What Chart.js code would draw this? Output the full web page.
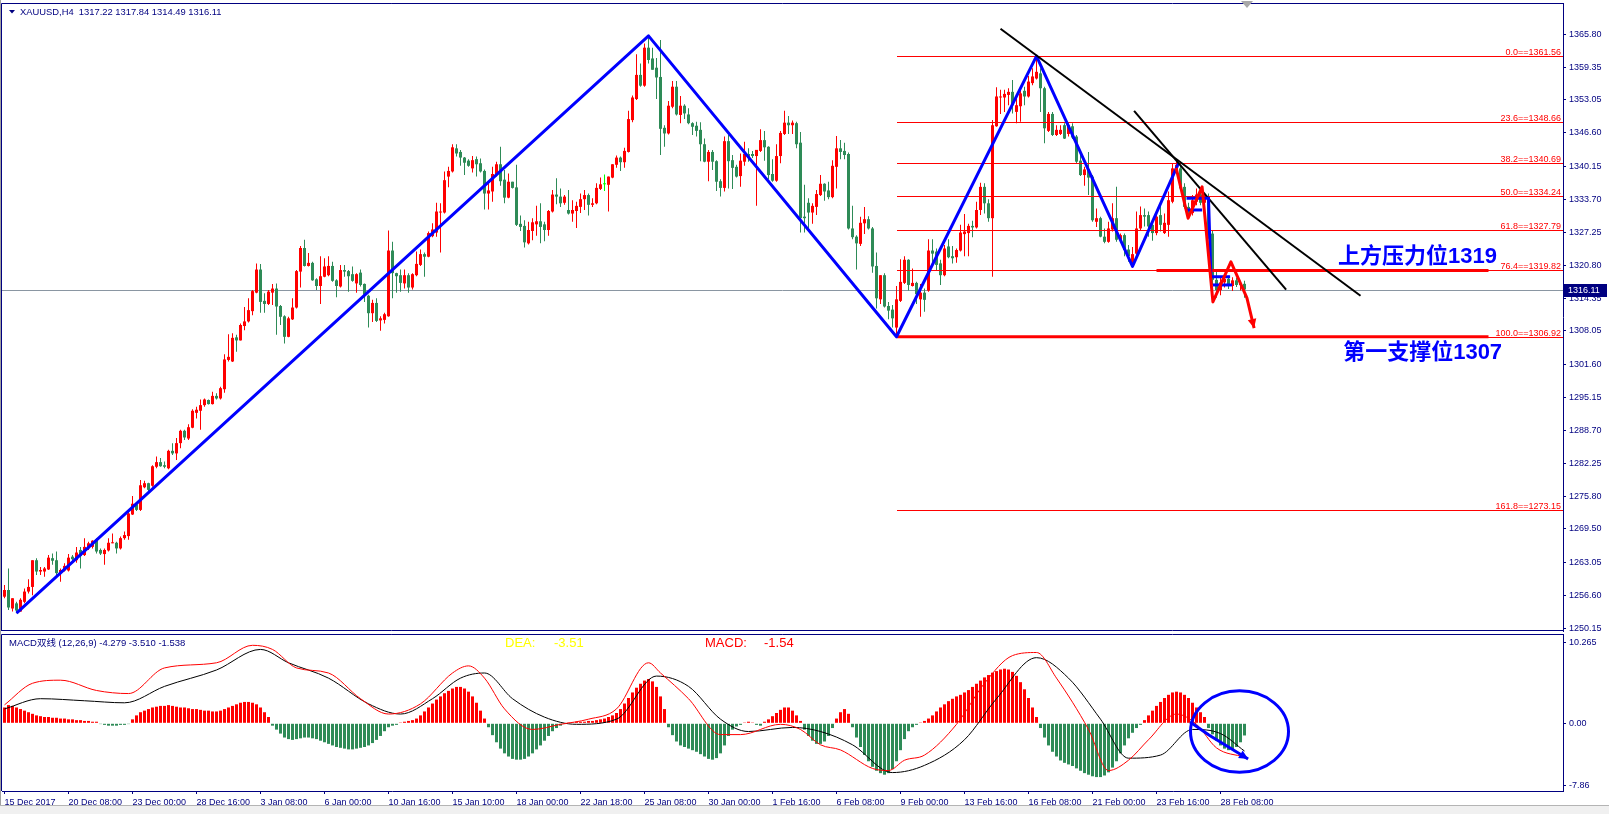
<!DOCTYPE html>
<html><head><meta charset="utf-8">
<script src="https://cdn.jsdelivr.net/npm/chart.js@4.4.1/dist/chart.umd.min.js"></script>
<style>
html,body{margin:0;padding:0;background:#fff;width:1609px;height:814px;overflow:hidden;position:relative;}
#wrapA{position:absolute;left:0;top:0;width:1609px;height:633px;}
#wrapB{position:absolute;left:0;top:633px;width:1609px;height:181px;}
#foot{position:absolute;left:0;top:805px;width:1609px;height:9px;background:#f0f0f0;border-top:1px solid #b4b4b4;}
#edge{position:absolute;left:0;top:0;width:1px;height:805px;background:#a0a0a0;}
</style></head><body>
<div id="wrapA"><canvas id="cA" width="1609" height="633"></canvas></div>
<div id="wrapB"><canvas id="cB" width="1609" height="181"></canvas></div>
<div id="foot"></div><div id="edge"></div>
<script>
// ---------------- DATA ----------------
const open = [
1256.3,1257.6,1254.0,1255.0,1253.4,1255.3,1257.3,1258.2,1263.4,1261.2,
1261.2,1261.6,1263.8,1263.4,1260.9,1261.4,1261.4,1264.1,1263.4,1265.4,
1264.4,1265.7,1266.0,1267.5,1265.4,1264.6,1265.3,1266.7,1266.8,1265.7,
1267.7,1268.1,1272.3,1274.3,1273.2,1277.6,1278.4,1277.9,1281.6,1282.5,
1281.9,1281.3,1284.7,1284.2,1286.2,1288.6,1287.1,1289.2,1292.1,1292.5,
1293.6,1294.6,1293.8,1295.4,1294.9,1296.7,1302.4,1302.1,1306.8,1306.2,
1309.0,1309.9,1311.9,1315.5,1320.0,1313.9,1313.3,1315.5,1316.3,1312.9,
1310.9,1306.9,1310.3,1312.6,1319.6,1324.2,1320.7,1321.3,1318.1,1316.8,
1318.6,1318.9,1320.7,1317.9,1316.7,1319.9,1319.7,1319.1,1317.3,1319.4,
1317.2,1314.9,1311.5,1313.5,1310.1,1310.2,1310.9,1323.7,1319.3,1318.9,
1317.3,1318.9,1316.5,1318.9,1320.9,1323.0,1322.5,1326.5,1327.2,1331.1,
1331.1,1338.1,1339.1,1343.6,1342.9,1341.8,1341.2,1339.7,1341.5,1340.7,
1339.2,1334.8,1335.2,1338.4,1340.5,1337.5,1334.0,1337.1,1336.0,1328.9,
1328.5,1325.1,1327.5,1328.8,1329.4,1328.8,1327.7,1331.3,1334.6,1334.2,
1333.0,1331.6,1330.9,1331.4,1332.2,1333.7,1334.5,1332.6,1332.9,1335.7,
1336.6,1336.5,1337.9,1340.4,1341.8,1340.9,1342.9,1349.1,1353.2,1357.9,
1355.8,1363.2,1361.1,1359.3,1357.5,1347.6,1346.5,1351.7,1355.6,1350.1,
1351.9,1350.2,1348.5,1348.0,1347.2,1344.4,1341.0,1342.9,1341.1,1337.2,
1335.9,1345.0,1341.3,1340.0,1338.2,1341.0,1342.5,1342.5,1342.1,1343.1,
1345.2,1343.9,1338.6,1337.3,1342.1,1346.4,1348.6,1348.1,1348.5,1344.7,
1330.3,1333.0,1331.1,1332.2,1334.5,1336.7,1335.4,1334.1,1340.0,1343.6,
1343.1,1342.5,1328.0,1326.4,1325.0,1329.0,1329.8,1328.0,1320.7,1314.2,
1318.9,1312.9,1312.2,1308.7,1313.9,1317.4,1321.9,1316.8,1317.4,1314.2,
1315.5,1315.9,1323.7,1323.5,1321.2,1318.9,1324.5,1322.6,1322.4,1323.7,
1326.9,1327.1,1328.5,1328.2,1331.6,1336.1,1332.9,1330.0,1347.9,1353.5,
1353.5,1354.0,1354.6,1350.7,1351.8,1354.8,1353.7,1356.3,1357.2,1358.2,
1355.3,1347.0,1350.3,1346.2,1346.4,1348.1,1346.4,1347.9,1345.9,1341.2,
1338.4,1339.5,1338.1,1329.3,1330.0,1326.4,1325.4,1327.8,1330.0,1325.8,
1326.7,1323.9,1321.3,1323.1,1328.0,1330.6,1330.6,1328.7,1327.1,1330.6,
1327.1,1328.7,1333.2,1339.1,1339.7,1336.1,1332.2,1331.0,1333.2,1334.6,
1333.0,1334.3,1327.0,1318.0,1316.0,1317.5,1318.2,1316.8,1317.9,1317.0,
1317.22];
const high = [
1258.6,1261.8,1256.0,1255.3,1256.0,1257.9,1259.7,1263.4,1263.8,1262.1,
1262.1,1264.4,1264.7,1265.1,1261.8,1262.8,1264.6,1264.4,1266.0,1266.0,
1267.7,1267.0,1267.3,1267.7,1265.7,1265.7,1267.7,1268.6,1267.0,1268.0,
1269.0,1272.9,1275.9,1274.6,1279.0,1278.9,1278.5,1281.9,1283.6,1283.3,
1282.6,1284.9,1286.2,1287.2,1288.8,1288.8,1289.9,1292.8,1293.3,1294.7,
1294.9,1294.7,1296.2,1295.9,1297.2,1303.5,1307.4,1307.6,1307.3,1309.5,
1312.7,1314.4,1316.0,1321.2,1321.1,1315.4,1316.0,1317.2,1317.3,1313.1,
1311.1,1310.8,1314.4,1319.9,1324.6,1325.8,1323.2,1321.5,1318.3,1322.6,
1322.2,1322.6,1321.5,1318.1,1320.9,1320.9,1319.9,1320.6,1319.3,1320.0,
1317.3,1315.1,1314.1,1314.4,1310.9,1311.6,1327.6,1325.4,1319.4,1320.0,
1320.0,1319.3,1319.3,1323.5,1323.9,1323.3,1327.4,1329.0,1333.0,1332.9,
1339.1,1340.0,1344.4,1344.4,1343.3,1341.9,1341.5,1342.1,1342.0,1341.6,
1339.5,1337.1,1340.0,1341.0,1343.9,1339.4,1338.7,1337.1,1340.4,1330.5,
1329.6,1329.3,1330.0,1332.4,1332.9,1329.3,1331.6,1335.5,1337.8,1335.8,
1334.5,1335.5,1333.5,1333.2,1334.8,1335.5,1334.8,1333.9,1336.8,1337.9,
1338.5,1338.1,1340.5,1342.2,1342.0,1343.7,1350.9,1353.9,1361.9,1360.1,
1364.0,1365.5,1363.2,1361.2,1364.7,1348.1,1352.8,1356.7,1356.7,1353.8,
1352.2,1351.4,1348.7,1348.8,1348.7,1345.5,1343.3,1343.3,1341.3,1337.6,
1345.9,1346.2,1342.3,1340.4,1342.6,1344.9,1343.6,1343.1,1343.3,1347.3,
1347.0,1344.0,1341.5,1344.4,1347.0,1350.9,1349.9,1349.0,1348.8,1346.8,
1336.5,1333.9,1332.9,1335.5,1338.4,1336.8,1337.1,1341.3,1346.0,1345.2,
1344.7,1342.8,1332.4,1326.7,1330.3,1332.2,1330.4,1328.3,1323.3,1318.9,
1319.3,1313.7,1313.1,1316.8,1322.0,1322.6,1322.0,1320.2,1317.6,1317.2,
1316.3,1325.9,1325.9,1324.1,1321.9,1324.8,1325.9,1324.6,1324.1,1328.7,
1330.8,1328.9,1329.5,1333.2,1336.9,1336.8,1333.7,1349.1,1355.5,1355.0,
1355.0,1355.3,1356.9,1354.0,1355.3,1355.6,1357.7,1359.2,1361.56,1359.2,
1355.6,1350.7,1350.7,1348.1,1348.1,1348.5,1348.5,1348.5,1346.2,1342.9,
1340.0,1342.9,1338.4,1331.9,1330.3,1328.0,1329.3,1332.9,1336.1,1327.0,
1327.0,1324.8,1324.4,1331.3,1332.3,1331.9,1331.3,1329.3,1330.9,1332.6,
1330.9,1335.2,1340.7,1341.0,1340.2,1336.8,1333.0,1334.5,1335.8,1335.2,
1334.8,1334.8,1327.5,1319.5,1318.6,1319.0,1318.8,1318.5,1318.4,1317.6,
1317.84];
const low = [
1256.0,1253.7,1253.4,1253.1,1253.4,1255.0,1256.9,1256.6,1260.5,1260.5,
1260.2,1261.5,1262.5,1260.5,1259.2,1261.2,1261.2,1263.1,1262.9,1261.8,
1264.2,1265.4,1265.7,1264.7,1264.4,1262.5,1265.1,1266.7,1264.7,1265.5,
1267.4,1267.4,1272.2,1273.0,1273.0,1277.4,1276.8,1277.7,1281.3,1281.6,
1281.3,1281.1,1283.9,1282.9,1285.2,1286.8,1286.8,1289.1,1291.0,1288.8,
1293.3,1293.7,1293.7,1294.7,1294.7,1296.0,1302.1,1302.0,1304.0,1306.2,
1308.2,1309.7,1311.1,1315.4,1311.6,1311.6,1313.1,1313.1,1307.3,1309.2,
1305.6,1306.8,1310.2,1312.4,1316.5,1320.6,1320.6,1317.8,1316.0,1313.3,
1318.5,1318.7,1317.6,1314.6,1316.5,1318.6,1315.7,1317.6,1315.5,1316.7,
1313.7,1308.7,1309.8,1309.8,1308.1,1309.5,1310.8,1314.4,1315.5,1315.7,
1316.3,1315.5,1316.1,1318.7,1320.7,1318.6,1322.4,1326.3,1326.4,1323.3,
1330.9,1336.0,1338.9,1342.0,1340.2,1338.4,1340.0,1338.9,1338.1,1338.9,
1331.7,1331.7,1333.2,1338.1,1336.3,1332.9,1333.9,1335.8,1328.5,1327.5,
1324.3,1324.9,1325.7,1326.6,1325.1,1325.5,1326.6,1331.1,1332.7,1332.2,
1332.6,1330.7,1329.3,1328.1,1331.0,1331.6,1330.5,1332.2,1332.7,1335.5,
1335.3,1331.3,1337.8,1339.8,1339.2,1339.8,1342.8,1348.7,1353.0,1355.6,
1355.6,1360.1,1358.9,1353.2,1342.3,1343.9,1346.3,1351.4,1350.0,1348.5,
1349.3,1348.3,1346.2,1345.9,1341.1,1340.9,1337.2,1339.4,1335.3,1334.2,
1335.2,1335.8,1335.7,1337.9,1336.1,1340.2,1341.0,1341.7,1332.4,1342.9,
1341.2,1337.6,1337.1,1337.1,1340.7,1346.2,1346.4,1346.4,1343.6,1327.2,
1327.2,1327.4,1328.9,1330.6,1334.3,1333.4,1333.7,1333.9,1335.8,1341.5,
1341.5,1327.8,1325.9,1320.0,1324.6,1326.9,1327.8,1319.4,1312.4,1313.3,
1312.6,1310.3,1308.7,1306.92,1313.7,1317.2,1315.9,1316.7,1313.3,1310.8,
1311.8,1315.7,1320.6,1319.9,1317.0,1318.7,1322.2,1321.2,1321.3,1323.5,
1322.6,1322.6,1326.3,1328.0,1330.6,1330.9,1329.3,1318.6,1347.8,1350.3,
1350.7,1352.0,1350.4,1348.5,1348.8,1352.0,1353.5,1355.9,1357.0,1350.7,
1344.6,1346.8,1346.0,1346.0,1346.2,1345.4,1345.9,1345.4,1340.7,1338.2,
1336.3,1334.5,1329.3,1328.3,1326.3,1325.1,1325.2,1327.4,1325.4,1325.6,
1322.6,1321.5,1320.5,1322.8,1327.7,1328.4,1326.4,1325.6,1326.7,1327.4,
1326.9,1326.4,1332.9,1338.6,1335.5,1331.9,1330.0,1330.5,1332.5,1332.5,
1332.0,1326.0,1317.0,1314.5,1315.0,1316.5,1316.2,1315.8,1316.6,1315.9,
1314.49];
const close = [
1257.6,1254.2,1256.0,1253.6,1255.7,1257.3,1258.2,1263.4,1261.2,1261.5,
1261.8,1263.9,1263.3,1260.9,1261.5,1262.3,1263.9,1263.6,1264.9,1264.2,
1266.0,1266.7,1267.2,1265.1,1264.7,1265.4,1266.8,1266.8,1265.7,1267.7,
1268.3,1272.5,1274.4,1273.2,1278.0,1278.4,1277.1,1281.7,1282.5,1281.7,
1281.6,1284.7,1284.2,1286.2,1288.6,1287.3,1289.3,1292.5,1292.7,1293.6,
1294.7,1293.8,1295.4,1294.9,1296.9,1302.5,1303.0,1306.7,1306.2,1309.2,
1309.9,1312.1,1315.8,1320.0,1313.7,1313.3,1315.7,1316.3,1312.8,1310.8,
1306.9,1310.5,1312.6,1319.7,1324.2,1320.7,1321.3,1317.9,1316.8,1318.7,
1320.6,1320.7,1317.8,1316.8,1319.9,1319.6,1318.7,1317.8,1319.1,1317.0,
1315.1,1311.5,1313.5,1310.0,1310.5,1311.3,1323.7,1319.3,1318.7,1317.4,
1318.9,1316.5,1319.1,1321.1,1323.0,1322.5,1327.1,1327.8,1331.3,1331.3,
1337.4,1339.2,1343.8,1342.6,1341.8,1340.8,1340.2,1341.3,1340.5,1339.1,
1334.8,1335.4,1338.6,1340.5,1337.2,1334.0,1337.1,1335.9,1328.7,1328.3,
1325.3,1327.7,1329.2,1329.4,1328.3,1327.7,1331.4,1334.6,1334.2,1332.9,
1334.2,1330.9,1331.6,1332.4,1333.7,1334.5,1332.6,1332.9,1335.9,1336.6,
1336.6,1338.1,1340.5,1341.8,1340.9,1343.1,1349.3,1353.5,1357.9,1355.8,
1363.2,1360.8,1358.9,1357.4,1347.4,1346.5,1351.9,1355.6,1350.2,1351.9,
1350.4,1348.5,1347.8,1347.0,1344.4,1341.0,1342.9,1341.0,1337.1,1335.9,
1345.0,1341.1,1339.8,1338.1,1341.2,1342.5,1341.8,1342.1,1343.3,1345.2,
1343.8,1338.4,1337.3,1342.1,1346.6,1348.6,1348.1,1348.6,1344.4,1330.0,
1330.0,1331.1,1332.4,1334.7,1336.7,1335.2,1334.1,1340.2,1343.6,1342.9,
1342.3,1328.0,1326.3,1325.1,1329.1,1329.8,1328.0,1320.6,1314.4,1318.9,
1312.8,1312.0,1310.5,1314.2,1317.6,1321.9,1317.0,1317.4,1315.2,1315.5,
1314.1,1323.7,1323.1,1320.9,1318.9,1324.1,1322.4,1322.2,1323.8,1327.2,
1327.4,1328.5,1328.2,1331.6,1336.1,1332.9,1330.0,1348.1,1353.7,1353.7,
1354.2,1354.6,1352.0,1352.0,1354.3,1353.7,1356.6,1357.6,1358.5,1355.3,
1347.5,1350.3,1346.2,1347.2,1347.2,1345.5,1348.1,1345.7,1341.0,1338.4,
1339.5,1337.9,1329.6,1330.0,1326.4,1325.4,1328.0,1330.0,1325.8,1326.7,
1323.8,1322.6,1323.0,1328.0,1330.6,1330.3,1328.4,1327.1,1330.3,1328.7,
1329.1,1333.5,1339.7,1340.4,1335.8,1332.2,1331.0,1333.5,1334.6,1333.0,
1334.3,1327.0,1318.0,1316.0,1317.5,1318.2,1316.8,1317.9,1317.0,1317.2,
1316.11];

// MACD histogram (one value per bar)
const macdHist = [
2.0,2.3,2.2,2.0,1.8,1.6,1.4,1.2,
1.0,0.9,0.8,0.8,0.7,0.7,0.6,0.6,0.5,0.5,0.4,0.4,0.3,0.3,0.2,0.2,
-0.1,-0.2,-0.3,-0.3,-0.3,-0.2,-0.2,-0.1,
0.5,1.0,1.4,1.6,1.8,2.0,2.1,2.2,2.2,2.3,2.2,2.1,2.0,2.0,1.9,1.8,1.8,1.7,1.6,1.6,1.5,1.5,1.6,1.8,2.0,2.2,2.4,2.6,2.7,2.7,2.6,2.4,2.0,1.4,0.8,
-0.3,-0.8,-1.3,-1.8,-2.0,-2.1,-2.0,-1.9,-1.8,-1.8,-1.9,-2.0,-2.2,-2.4,-2.6,-2.8,-3.0,-3.1,-3.2,-3.3,-3.3,-3.2,-3.1,-3.0,-2.8,-2.5,-2.1,-1.6,-1.0,-0.5,
-0.3,-0.2,0.1,0.2,0.3,0.4,0.6,
1.0,1.5,2.0,2.5,3.0,3.4,3.8,4.1,4.4,4.6,4.6,4.4,4.0,3.4,2.6,1.6,0.6,
-0.5,-1.5,-2.4,-3.2,-3.8,-4.2,-4.5,-4.6,-4.6,-4.5,-4.2,-3.8,-3.3,-2.8,-2.2,-1.6,-1.0,-0.6,-0.3,
-0.1,0.1,0.1,0.2,0.2,0.2,0.3,0.3,0.4,0.5,0.6,0.8,1.0,1.3,
1.8,2.5,3.2,3.9,4.5,5.0,5.4,5.6,5.3,4.6,3.4,1.8,
-0.5,-1.5,-2.3,-2.8,-3.0,-3.2,-3.4,-3.6,-3.9,-4.2,-4.5,-4.6,-4.4,-3.8,-2.8,-1.6,
-0.8,-0.4,-0.2,0.1,0.2,0.1,-0.2,-0.3,0.2,0.5,0.9,1.3,
1.7,2.0,2.0,1.6,1.0,0.3,
-0.8,-1.6,-2.2,-2.6,-2.6,-2.3,-1.6,-0.6,
0.6,1.4,1.8,1.2,
-0.5,-1.8,-3.0,-4.0,-4.8,-5.5,-6.0,-6.3,-6.5,-6.3,-5.8,-4.8,-3.4,-2.0,
-1.0,-0.5,-0.2,0.1,0.3,0.6,
1.0,1.5,2.0,2.4,2.8,3.1,3.4,3.6,3.9,4.2,4.6,5.0,5.4,5.8,6.1,6.4,6.6,6.8,6.9,6.8,6.5,6.0,5.2,4.3,3.2,2.0,0.8,
-0.6,-1.8,-2.8,-3.6,-4.2,-4.7,-5.0,-5.2,-5.4,-5.7,-6.0,-6.3,-6.5,-6.7,-6.8,-6.8,-6.6,-6.2,-5.6,-4.8,-3.8,-2.8,-1.9,-1.2,-0.6,-0.2,
0.4,1.0,1.6,2.2,2.7,3.2,3.6,3.9,4.0,3.9,3.6,3.2,2.6,2.0,1.4,0.8,
-0.6,-1.4,-2.2,-2.8,-3.2,-3.4,-3.3,-3.0,-2.4,-1.54];

// MACD lines, read at sampled bars
const difBars = [0,7,14,23,31,40,53,62,67,73,81,89,96,104,112,116,120,125,132,139,146,153,161,164,171,179,184,194,199,204,209,217,221,225,230,238,245,252,258,263,271,276,281,286,293,298,303,310];
const difVals = [2.33,5.06,5.45,4.15,3.76,7.0,7.65,9.86,9.34,7.0,6.36,3.11,1.17,2.46,6.36,7.26,5.71,1.82,-0.78,-0.13,0.52,1.82,7.65,6.36,3.11,-1.43,-1.43,-0.13,-0.78,-2.72,-3.37,-5.71,-5.97,-4.67,-4.02,-0.13,5.06,8.56,8.95,5.71,-0.78,-5.97,-4.67,-2.08,1.17,-0.13,-3.11,-4.28];
const deaBars = [0,9,20,30,40,53,64,71,81,91,99,107,114,120,127,135,143,153,163,171,179,186,197,204,212,222,230,240,248,258,266,274,281,289,297,304,310];
const deaVals = [1.82,3.11,2.85,2.59,4.67,6.74,9.34,7.65,5.71,2.46,1.17,3.11,5.71,6.36,3.11,0.78,-0.13,0.52,5.97,4.67,0.52,-1.04,-0.52,-1.04,-2.72,-6.23,-5.32,-2.08,3.11,8.30,5.71,0.52,-4.41,-4.02,-0.78,-1.30,-3.51];

// axes
const priceTicks = [1365.80,1359.35,1353.05,1346.60,1340.15,1333.70,1327.25,1320.80,1314.35,1308.05,1301.60,1295.15,1288.70,1282.25,1275.80,1269.50,1263.05,1256.60,1250.15];
const priceTickLabels = ['1365.80','1359.35','1353.05','1346.60','1340.15','1333.70','1327.25','1320.80','1314.35','1308.05','1301.60','1295.15','1288.70','1282.25','1275.80','1269.50','1263.05','1256.60','1250.15'];
const macdTicks = [10.265, 0, -7.86];
const macdTickLabels = ['10.265','0.00','-7.86'];
const timeTickBars = [0,16,32,48,64,80,96,112,128,144,160,176,192,208,224,240,256,272,288,304];
const timeTickLabels = ['15 Dec 2017','20 Dec 08:00','23 Dec 00:00','28 Dec 16:00','3 Jan 08:00','6 Jan 00:00','10 Jan 16:00','15 Jan 10:00','18 Jan 00:00','22 Jan 18:00','25 Jan 08:00','30 Jan 00:00','1 Feb 16:00','6 Feb 08:00','9 Feb 00:00','13 Feb 16:00','16 Feb 08:00','21 Feb 00:00','23 Feb 16:00','28 Feb 08:00'];

// drawn objects
const fibLevels = [0.0,23.6,38.2,50.0,61.8,76.4,100.0,161.8];
const fibPrices = [1361.56,1348.66,1340.69,1334.24,1327.79,1319.82,1306.92,1273.15];
const fibStartBar = 223;
const zigzagBars = [3,161,223,258,282,293.5];
const zigzagPrices = [1253.1,1365.5,1306.92,1361.56,1320.6,1340.69];
const trend1Bars = [249,339], trend1Prices = [1366.9,1314.9];
const trend2Bars = [282.4,320.4], trend2Prices = [1350.9,1316.1];
const resistBars = [288,371], resistPrice = 1319.82;
const supportBars = [223,371], supportPrice = 1306.92;
const redPathBars = [292.9,295.9,299.4,302.1,306.6,310.6,312.4];
const redPathPrices = [1339.8,1330.0,1336.1,1313.7,1321.5,1314.5,1308.6];
const bluePathBars = [295.5,301.0,301.6,306.4];
const bluePathPrices = [1333.9,1333.9,1318.6,1318.6];
const blueLineABars = [295.5,299.4], blueLineAPrices = [1331.6,1331.6];
const blueLineBBars = [302.1,306.9], blueLineBPrices = [1317.0,1317.0];
const lastPrice = 1316.11;
const textResist = '上方压力位1319', textResistBar = 373.1, textResistPrice = 1321.2;
const textSupport = '第一支撑位1307', textSupportBar = 374.4, textSupportPrice = 1302.5;
const headerText = 'XAUUSD,H4  1317.22 1317.84 1314.49 1316.11';
const macdHeader = 'MACD双线 (12,26,9) -4.279 -3.510 -1.538';
const deaLabel = 'DEA:', deaValueText = '-3.51';
const macdLabel = 'MACD:', macdValueText = '-1.54';
const ellipseBars = [296.5,321.0], ellipseVals = [4.1,-6.2];
const macdArrowBars = [296.4,301.1,310.9], macdArrowVals = [0.16,-1.48,-4.51];

// ---------------- RENDER ----------------
const X_MIN = -0.625, X_MAX = 389.625;
const P_MIN = 1249.62, P_MAX = 1371.9;
const M_MIN = -8.56, M_MAX = 11.29;
const UP = '#ff0000', DN = '#2e8b57', DOJI = '#00ff00';
const NAVY = '#000080';
const FONT = "'Liberation Sans', Arial, sans-serif";
const candleColor = close.map((c,i)=> c>open[i]?UP:(c<open[i]?DN:DOJI));

function poly(ctx, xs, ys, bars, vals){
  ctx.beginPath();
  bars.forEach((b,i)=>{const px=xs.getPixelForValue(b), py=ys.getPixelForValue(vals[i]); i?ctx.lineTo(px,py):ctx.moveTo(px,py);});
  ctx.stroke();
}
function arrowHead(ctx, x1,y1,x2,y2,size,color){
  const a=Math.atan2(y2-y1,x2-x1);
  ctx.fillStyle=color; ctx.beginPath();
  ctx.moveTo(x2,y2);
  ctx.lineTo(x2-size*Math.cos(a-0.45), y2-size*Math.sin(a-0.45));
  ctx.lineTo(x2-size*Math.cos(a+0.45), y2-size*Math.sin(a+0.45));
  ctx.closePath(); ctx.fill();
}

const overlayA = {
  id:'overlayA',
  beforeDatasetsDraw(chart){
    const {ctx, chartArea:a, scales:{x,y}} = chart;
    ctx.save();
    const py = Math.round(y.getPixelForValue(lastPrice))+0.5;
    ctx.strokeStyle='#8a96a2'; ctx.lineWidth=1;
    ctx.beginPath(); ctx.moveTo(a.left,py); ctx.lineTo(a.right,py); ctx.stroke();
    ctx.restore();
  },
  afterDatasetsDraw(chart){
    const {ctx, chartArea:a, scales:{x,y}} = chart;
    ctx.save();
    ctx.beginPath(); ctx.rect(a.left,a.top,a.right-a.left,a.bottom-a.top); ctx.clip();
    // fibonacci
    ctx.lineWidth=1; ctx.strokeStyle='#ff0000'; ctx.fillStyle='#ff0000';
    ctx.font='9px '+FONT; ctx.textAlign='right'; ctx.textBaseline='alphabetic';
    const fx = Math.round(x.getPixelForValue(fibStartBar));
    fibPrices.forEach((p,i)=>{
      const ly = Math.round(y.getPixelForValue(p))+0.5;
      ctx.beginPath(); ctx.moveTo(fx,ly); ctx.lineTo(a.right,ly); ctx.stroke();
      ctx.fillText(fibLevels[i].toFixed(1)+'=='+p.toFixed(2), a.right-2, ly-2);
    });
    // thick support / resistance
    ctx.lineWidth=3;
    ctx.beginPath(); ctx.moveTo(x.getPixelForValue(resistBars[0]), y.getPixelForValue(resistPrice)); ctx.lineTo(x.getPixelForValue(resistBars[1]), y.getPixelForValue(resistPrice)); ctx.stroke();
    ctx.beginPath(); ctx.moveTo(x.getPixelForValue(supportBars[0]), y.getPixelForValue(supportPrice)); ctx.lineTo(x.getPixelForValue(supportBars[1]), y.getPixelForValue(supportPrice)); ctx.stroke();
    // zigzag
    ctx.lineJoin='round';
    ctx.strokeStyle='#0000ff'; ctx.lineWidth=3;
    poly(ctx,x,y,zigzagBars,zigzagPrices);
    // trend lines
    ctx.strokeStyle='#000000'; ctx.lineWidth=2;
    poly(ctx,x,y,trend1Bars,trend1Prices);
    poly(ctx,x,y,trend2Bars,trend2Prices);
    // blue boxes
    ctx.strokeStyle='#0000ff'; ctx.lineWidth=3;
    poly(ctx,x,y,bluePathBars,bluePathPrices);
    poly(ctx,x,y,blueLineABars,blueLineAPrices);
    poly(ctx,x,y,blueLineBBars,blueLineBPrices);
    // red path
    ctx.strokeStyle='#ff0000'; ctx.lineWidth=3;
    poly(ctx,x,y,redPathBars,redPathPrices);
    const n=redPathBars.length;
    arrowHead(ctx, x.getPixelForValue(redPathBars[n-2]), y.getPixelForValue(redPathPrices[n-2]), x.getPixelForValue(redPathBars[n-1]), y.getPixelForValue(redPathPrices[n-1]), 10, '#ff0000');
    // texts
    ctx.fillStyle='#0000ff'; ctx.font="bold 22px 'Liberation Sans', 'Noto Sans CJK SC', sans-serif";
    ctx.textAlign='right'; ctx.textBaseline='alphabetic';
    ctx.fillText(textResist, x.getPixelForValue(textResistBar), y.getPixelForValue(textResistPrice));
    ctx.fillText(textSupport, x.getPixelForValue(textSupportBar), y.getPixelForValue(textSupportPrice));
    ctx.restore();
  },
  afterDraw(chart){
    const {ctx, chartArea:a, scales:{y}} = chart;
    ctx.save();
    ctx.strokeStyle=NAVY; ctx.lineWidth=1;
    ctx.beginPath();
    ctx.moveTo(a.left-0.5, a.bottom-0.5); ctx.lineTo(a.left-0.5, a.top+0.5); ctx.lineTo(a.right, a.top+0.5);
    ctx.moveTo(a.left-1, a.bottom-0.5); ctx.lineTo(a.right, a.bottom-0.5);
    ctx.stroke();
    // header
    ctx.fillStyle=NAVY; ctx.beginPath(); ctx.moveTo(9,10); ctx.lineTo(15,10); ctx.lineTo(12,13.5); ctx.closePath(); ctx.fill();
    ctx.font='9.4px '+FONT; ctx.textAlign='left'; ctx.textBaseline='middle';
    ctx.fillText(headerText, 20, 12);
    // chart shift marker
    ctx.fillStyle='#a8a8a8'; ctx.beginPath(); ctx.moveTo(1241,1); ctx.lineTo(1253,1); ctx.lineTo(1247,8); ctx.closePath(); ctx.fill();
    // current price box
    const py = Math.round(y.getPixelForValue(lastPrice));
    ctx.fillStyle=NAVY; ctx.fillRect(a.right+1, py-6, 43, 13);
    ctx.fillStyle='#ffffff'; ctx.font='9px '+FONT; ctx.textBaseline='middle';
    ctx.fillText(lastPrice.toFixed(2), a.right+5, py+0.5);
    ctx.restore();
  }
};

const overlayB = {
  id:'overlayB',
  afterDatasetsDraw(chart){
    const {ctx, chartArea:a, scales:{x,y}} = chart;
    ctx.save();
    const l=x.getPixelForValue(ellipseBars[0]), r=x.getPixelForValue(ellipseBars[1]);
    const t=y.getPixelForValue(ellipseVals[0]), b=y.getPixelForValue(ellipseVals[1]);
    ctx.strokeStyle='#0000ff'; ctx.lineWidth=3;
    ctx.beginPath(); ctx.ellipse((l+r)/2,(t+b)/2,(r-l)/2,(b-t)/2,0,0,Math.PI*2); ctx.stroke();
    poly(ctx,x,y,macdArrowBars,macdArrowVals);
    const n=macdArrowBars.length;
    arrowHead(ctx, x.getPixelForValue(macdArrowBars[n-2]), y.getPixelForValue(macdArrowVals[n-2]), x.getPixelForValue(macdArrowBars[n-1]), y.getPixelForValue(macdArrowVals[n-1]), 10, '#0000ff');
    ctx.restore();
  },
  afterDraw(chart){
    const {ctx, chartArea:a} = chart;
    ctx.save();
    ctx.strokeStyle=NAVY; ctx.lineWidth=1;
    ctx.beginPath(); ctx.moveTo(a.left-0.5, a.bottom); ctx.lineTo(a.left-0.5, a.top+0.5); ctx.lineTo(a.right, a.top+0.5); ctx.stroke();
    ctx.textAlign='left'; ctx.textBaseline='middle';
    ctx.fillStyle=NAVY; ctx.font="9.5px 'Liberation Sans', 'Noto Sans CJK SC', sans-serif";
    ctx.fillText(macdHeader, 9, 10);
    ctx.font='13px '+FONT;
    ctx.fillStyle='#ffff00'; ctx.fillText(deaLabel, 505, 10); ctx.fillText(deaValueText, 554, 10);
    ctx.fillStyle='#ff0000'; ctx.fillText(macdLabel, 705, 10); ctx.fillText(macdValueText, 764, 10);
    ctx.restore();
  }
};

const tickFont = {family:"'Liberation Sans', Arial, sans-serif", size:9};

new Chart(document.getElementById('cA'), {
  type:'bar',
  data:{datasets:[
    {label:'wick', data: close.map((c,i)=>({x:i, y:[low[i],high[i]]})), backgroundColor:candleColor, barThickness:1, grouped:false, order:2, inflateAmount:0, borderWidth:0},
    {label:'body', data: close.map((c,i)=>({x:i, y:[open[i],c]})), backgroundColor:candleColor, barThickness:3, minBarLength:1, grouped:false, order:1, inflateAmount:0, borderWidth:0}
  ]},
  options:{
    responsive:false, animation:false, devicePixelRatio:1,
    layout:{padding:{left:2,right:0,top:3,bottom:2}, autoPadding:false},
    plugins:{legend:{display:false}, tooltip:{enabled:false}},
    scales:{
      x:{type:'linear', min:X_MIN, max:X_MAX, bounds:'data', offset:false, display:false, grid:{offset:false}},
      y:{position:'right', min:P_MIN, max:P_MAX, bounds:'data',
         afterFit(s){s.width=46; s.paddingTop=0; s.paddingBottom=0;},
         afterBuildTicks(s){s.ticks=priceTicks.map(v=>({value:v}));},
         ticks:{callback:(v,i)=>priceTickLabels[i], font:tickFont, color:NAVY, padding:3, autoSkip:false},
         grid:{drawOnChartArea:false, tickLength:3, color:NAVY},
         border:{color:NAVY}}
    }
  },
  plugins:[overlayA]
});

new Chart(document.getElementById('cB'), {
  type:'bar',
  data:{datasets:[
    {type:'bar', data: macdHist.map((v,i)=>({x:i,y:v})), backgroundColor: macdHist.map(v=>v>=0?UP:DN), barThickness:3, grouped:false, inflateAmount:0, borderWidth:0, order:3},
    {type:'line', data: difBars.map((b,i)=>({x:b,y:difVals[i]})), borderColor:'#ff0000', borderWidth:1, pointRadius:0, cubicInterpolationMode:'monotone', order:1},
    {type:'line', data: deaBars.map((b,i)=>({x:b,y:deaVals[i]})), borderColor:'#000000', borderWidth:1, pointRadius:0, cubicInterpolationMode:'monotone', order:2}
  ]},
  options:{
    responsive:false, animation:false, devicePixelRatio:1,
    layout:{padding:{left:2,right:0,top:1,bottom:0}, autoPadding:false},
    plugins:{legend:{display:false}, tooltip:{enabled:false}},
    scales:{
      x:{type:'linear', min:X_MIN, max:X_MAX, bounds:'data', offset:false, position:'bottom',
         afterFit(s){s.height=23; s.paddingLeft=0; s.paddingRight=0;},
         afterBuildTicks(s){s.ticks=timeTickBars.map(v=>({value:v}));},
         ticks:{callback:(v,i)=>timeTickLabels[i], align:'start', maxRotation:0, minRotation:0, autoSkip:false, padding:3, font:tickFont, color:NAVY},
         grid:{drawOnChartArea:false, tickLength:3, color:NAVY, offset:false},
         border:{color:NAVY}},
      y:{position:'right', min:M_MIN, max:M_MAX, bounds:'data',
         afterFit(s){s.width=46; s.paddingTop=0; s.paddingBottom=0;},
         afterBuildTicks(s){s.ticks=macdTicks.map(v=>({value:v}));},
         ticks:{callback:(v,i)=>macdTickLabels[i], font:tickFont, color:NAVY, padding:3, autoSkip:false},
         grid:{drawOnChartArea:false, tickLength:3, color:NAVY},
         border:{color:NAVY}}
    }
  },
  plugins:[overlayB]
});
</script>
</body></html>
